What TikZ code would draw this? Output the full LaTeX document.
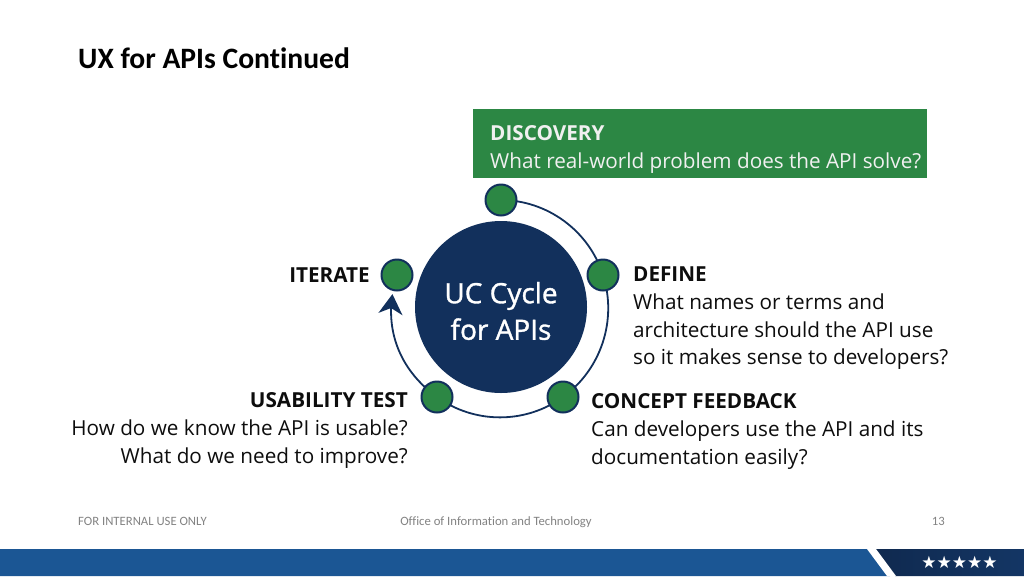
\documentclass[tikz,border=0pt]{standalone}
\usepackage{fontspec}
\setmainfont{Open Sans}
\newfontfamily\slidefont[Ligatures=NoCommon]{Carlito}
\newfontfamily\semifont[FakeBold=1.2]{Open Sans}
\usetikzlibrary{arrows.meta, bending, positioning, shapes.geometric, calc, backgrounds}
\definecolor{navycolor}{RGB}{18, 48, 92}
\definecolor{greencolor}{RGB}{44, 135, 68}
\definecolor{barcolor}{RGB}{27, 86, 148}
\definecolor{footcolor}{RGB}{130, 130, 130}

\begin{document}
\begin{tikzpicture}[
    x=1pt, y=-1pt,
    hub/.style={circle, fill=navycolor, minimum size=172pt, inner sep=0pt},
    stage/.style={circle, draw=navycolor, line width=2pt, fill=greencolor, minimum size=31pt, inner sep=0pt},
    ring/.style={draw=navycolor, line width=1.8pt, looseness=0.94},
    caption/.style={inner sep=0pt, font=\fontsize{20.7}{27.7}\selectfont, text=black!95},
    footer/.style={inner sep=0pt, font=\slidefont\fontsize{12.7}{14}\selectfont, text=footcolor}
]
    \useasboundingbox (0,0) rectangle (1024,576);

    % Header and footer
    \node[inner sep=0pt, anchor=west, font=\slidefont\bfseries\fontsize{29.6}{32}\selectfont] (title) at (78,58) {UX for APIs Continued};
    \node[footer, anchor=base west] (internal) at (78,525.5) {FOR INTERNAL USE ONLY};
    \node[footer, anchor=base] (office) at (496,525.5) {Office of Information and Technology};
    \node[footer, anchor=base east] (page) at (945,525.5) {13};

    % Bottom bar
    \fill[barcolor] (0,549) -- (870,549) -- (890,576) -- (0,576) -- cycle;
    \path[left color=navycolor!85!black, right color=navycolor!85!barcolor] (868,549) -- (1024,549) -- (1024,576) -- (895,576) -- cycle;
    \fill[white] (867,549) -- (876,549) -- (896,576) -- (887,576) -- cycle;
    \node[inner sep=0pt, text=white, font=\fontsize{17}{17}\selectfont] (stars) at (959.5,562) {\fontspec{DejaVu Sans}★★★★★};

    % Discovery banner
    \node[fill=greencolor, minimum width=454pt, minimum height=69pt, inner sep=0pt, anchor=north west] (banner) at (473,109) {};
    \node[caption, anchor=base west, text=white!94!black] (discovery) at (490,140) {\textbf{DISCOVERY}};
    \node[caption, anchor=base west, text=white!94!black] (discoverytext) at (490,168) {What real-world problem does the API solve?};

    % Cycle
    \node[hub] (hubnode) at (501,307) {};
    \node[align=center, text=white, font=\semifont\fontsize{28}{36.5}\selectfont] (hublabel) at (501,311) {UC Cycle\\for APIs};
    \node[stage] (top) at (501,200) {};
    \node[stage] (right) at (603,275) {};
    \node[stage] (lowright) at (563,397) {};
    \node[stage] (lowleft) at (437,397) {};
    \node[stage] (left) at (397,275) {};

    \begin{pgfonlayer}{background}
        \draw[ring] (top.center) to[bend left=36] (right.center);
        \draw[ring] (right.center) to[bend left=36] (lowright.center);
        \draw[ring] (lowright.center) to[bend left=36] (lowleft.center);
        \draw[ring, looseness=1, -{Stealth[length=20pt, width=24pt, inset=6pt, flex]}, shorten >=20pt] (lowleft.center) to[bend left=36] (left.center);
    \end{pgfonlayer}

    % Labels
    \node[caption, anchor=base east] (iterate) at (370,282) {\textbf{ITERATE}};
    \node[caption, anchor=base west] (define) at (633,281) {\textbf{DEFINE}};
    \node[caption, anchor=north west, align=left] (definetext) at (633,293.5) {What names or terms and\\architecture should the API use\\so it makes sense to developers?};
    \node[caption, anchor=base west] (feedback) at (591,408) {\textbf{CONCEPT FEEDBACK}};
    \node[caption, anchor=north west, align=left] (feedbacktext) at (591,420.5) {Can developers use the API and its\\documentation easily?};
    \node[caption, anchor=base east] (usability) at (408,407.5) {\textbf{USABILITY TEST}};
    \node[caption, anchor=north east, align=right] (usabilitytext) at (408,419.5) {How do we know the API is usable?\\What do we need to improve?};
\end{tikzpicture}
\end{document}
